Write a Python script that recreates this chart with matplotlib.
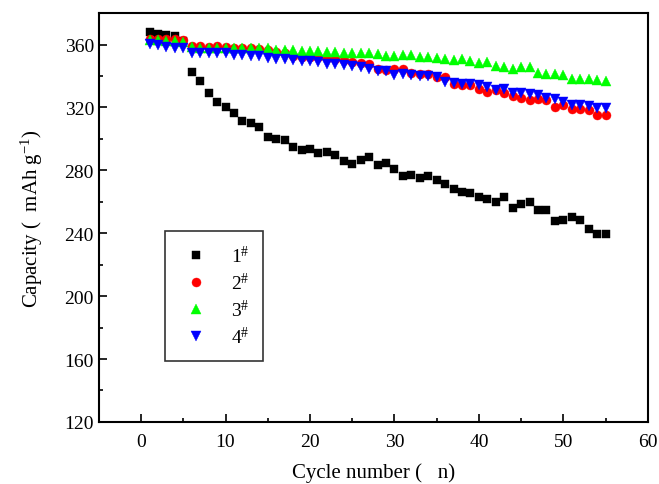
import matplotlib
matplotlib.use("Agg")
import matplotlib.pyplot as plt
from matplotlib.ticker import MultipleLocator

plt.rcParams['font.family'] = ['Liberation Serif', 'DejaVu Serif']
plt.rcParams['mathtext.fontset'] = 'stix'
plt.rcParams['mathtext.default'] = 'regular'

# Data
cycles = list(range(1, 56))

cap_1 = [368.1, 367.0, 365.9, 365.3, 362.0, 342.8, 337.1, 329.0, 323.3, 320.3,
         316.7, 311.2, 309.9, 307.5, 301.5, 300.1, 299.2, 295.0, 293.0, 293.4,
         291.1, 291.7, 290.0, 285.7, 283.8, 286.8, 288.5, 283.6, 284.7, 280.6,
         276.2, 276.8, 274.9, 276.2, 273.9, 271.5, 268.1, 266.4, 265.3, 263.0,
         262.0, 260.1, 263.0, 256.0, 258.8, 259.9, 255.0, 254.8, 248.0, 248.2,
         250.1, 248.4, 242.4, 239.5, 239.7]

cap_2 = [363.8, 363.8, 363.5, 363.2, 362.7, 358.9, 358.9, 358.7, 358.9, 358.5,
         358.1, 357.8, 357.5, 357.2, 356.5, 355.5, 354.5, 353.0, 352.2, 352.0,
         351.8, 351.7, 350.5, 350.0, 349.0, 348.0, 347.5, 344.5, 344.0, 344.7,
         344.7, 341.7, 341.0, 341.0, 339.5, 339.4, 335.2, 334.1, 334.0, 332.0,
         329.9, 331.0, 329.3, 327.1, 326.1, 325.0, 325.6, 324.5, 320.3, 321.4,
         319.3, 319.3, 318.2, 315.0, 315.0]

cap_3 = [362.7, 362.7, 362.3, 362.3, 361.7, 358.5, 358.1, 358.1, 358.1, 358.0,
         358.0, 357.5, 357.5, 357.5, 357.5, 356.8, 356.8, 356.4, 356.0, 356.0,
         356.0, 355.3, 355.3, 354.9, 354.9, 354.7, 354.3, 353.8, 352.6, 352.6,
         353.4, 353.4, 352.2, 352.2, 351.4, 350.6, 350.1, 350.6, 349.2, 348.1,
         348.8, 346.5, 345.8, 344.7, 345.4, 345.4, 341.7, 341.3, 341.1, 340.5,
         338.1, 338.1, 338.0, 337.4, 336.8]

cap_4 = [360.2, 359.6, 358.5, 358.1, 357.5, 354.3, 354.7, 354.7, 354.3, 354.3,
         353.2, 353.2, 352.8, 352.6, 351.7, 351.1, 351.1, 350.0, 349.6, 349.6,
         349.0, 347.9, 347.5, 346.8, 346.2, 345.8, 344.7, 343.3, 343.3, 340.5,
         341.1, 340.5, 340.1, 339.8, 339.4, 336.3, 335.8, 335.2, 334.7, 334.1,
         333.1, 330.9, 332.0, 329.3, 329.3, 328.4, 327.7, 326.3, 325.6, 323.5,
         321.4, 321.4, 320.7, 319.9, 319.9]

labels = ['1$^{\\#}$', '2$^{\\#}$', '3$^{\\#}$', '4$^{\\#}$']

fig = plt.figure(figsize=(6.59, 4.85), dpi=100)
ax = fig.add_axes([0.150, 0.128, 0.833, 0.843])

ax.plot(cycles, cap_1, 's', color='black', markersize=5.8, mew=0.3, label=labels[0])
ax.plot(cycles, cap_2, 'o', color='#ff0000', markersize=6.5, mew=0.3, label=labels[1])
ax.plot(cycles, cap_3, '^', color='#00ff00', markersize=7.8, mew=0.3, label=labels[2])
ax.plot(cycles, cap_4, 'v', color='#0000ff', markersize=7.8, mew=0.3, label=labels[3])

ax.set_xlim(-5, 60)
ax.set_ylim(120, 380)
ax.xaxis.set_major_locator(MultipleLocator(10))
ax.xaxis.set_minor_locator(MultipleLocator(5))
ax.yaxis.set_major_locator(MultipleLocator(40))
ax.yaxis.set_minor_locator(MultipleLocator(20))
ax.tick_params(which='both', direction='in', labelsize=14, width=1.2)
ax.tick_params(which='major', length=6)
ax.tick_params(which='minor', length=3)
ax.tick_params(axis='x', pad=8)
for sp in ax.spines.values():
    sp.set_linewidth(1.5)

ax.set_xlabel('Cycle number (   n)', fontsize=15, labelpad=9)
ax.set_ylabel('Capacity (  mAh g$^{-1}$)', fontsize=15, labelpad=14)

leg = ax.legend(loc='upper left', bbox_to_anchor=(0.12, 0.467), fancybox=False,
                edgecolor='black', fontsize=14, handletextpad=0.9,
                borderpad=0.7, labelspacing=0.3, handlelength=1.8,
                borderaxespad=0)
leg.get_frame().set_linewidth(1.2)

fig.savefig('out.png', dpi=100)
